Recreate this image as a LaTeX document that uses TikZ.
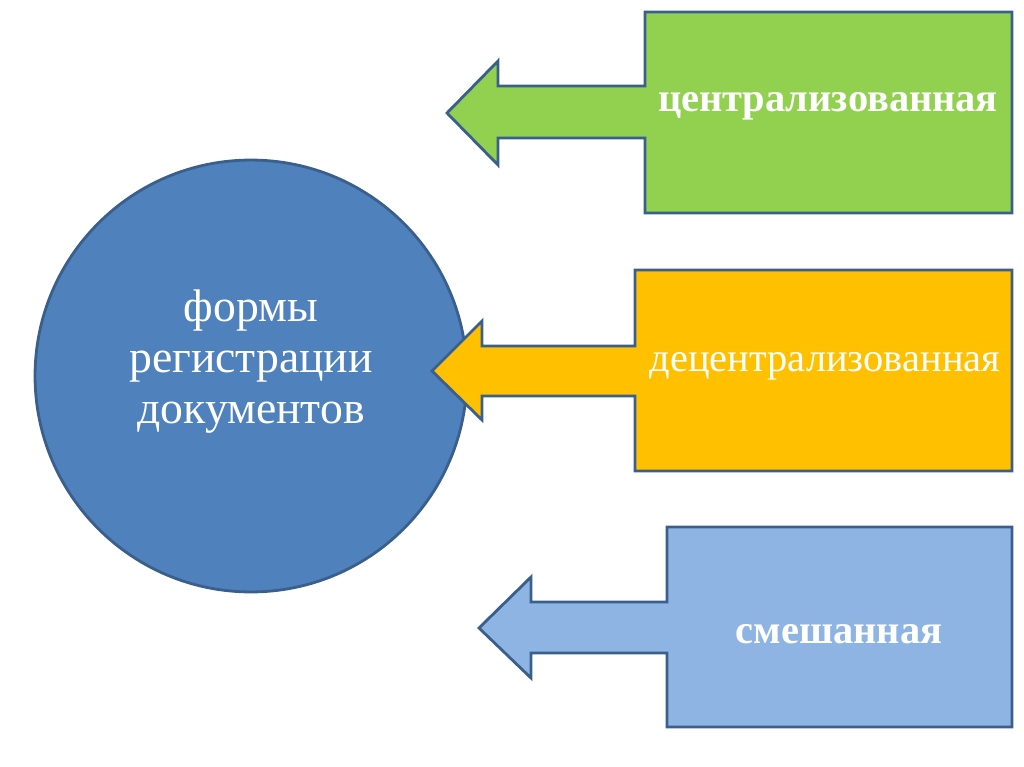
\documentclass[tikz,border=0pt]{standalone}
\usepackage{fontspec}
\setmainfont{Liberation Serif}
\usetikzlibrary{positioning}

\definecolor{edgeblue}{HTML}{3A5F8C}
\definecolor{formblue}{HTML}{4F81BD}
\definecolor{centrgreen}{HTML}{92D050}
\definecolor{decentryellow}{HTML}{FFC000}
\definecolor{mixblue}{HTML}{8EB4E3}

\begin{document}
\begin{tikzpicture}[
    x=0.02cm, y=-0.02cm,
    callout/.style={draw=edgeblue, line width=1.6pt, line join=miter},
    formcircle/.style={circle, draw=edgeblue, line width=1.6pt, fill=formblue,
                minimum size=8.64cm, inner sep=0pt},
    formtext/.style={text=white, align=center, font=\fontsize{26}{29}\selectfont},
    kindtext/.style={text=white, anchor=base, font=\fontsize{23}{28}\selectfont}
  ]
    \useasboundingbox (0,0) rectangle (1024,767);

    \node[formcircle] (forms) at (251,376) {};
    \node[formtext] (formsname) at (251,362) {формы\\регистрации\\документов};

    \filldraw[callout, fill=centrgreen] (645,12) -- (1012,12) -- (1012,213) -- (645,213)
      -- (645,138) -- (498,138) -- (498,165) -- (447,113) -- (498,61) -- (498,86) -- (645,86) -- cycle;
    \filldraw[callout, fill=decentryellow] (635,270) -- (1012,270) -- (1012,471) -- (635,471)
      -- (635,396) -- (482,396) -- (482,420) -- (432,371) -- (482,321) -- (482,346) -- (635,346) -- cycle;
    \filldraw[callout, fill=mixblue] (667,527) -- (1012,527) -- (1012,727) -- (667,727)
      -- (667,653) -- (531,653) -- (531,678) -- (479,628) -- (531,577) -- (531,602) -- (667,602) -- cycle;

    \node[kindtext, font=\fontsize{23}{28}\selectfont\bfseries] (centr) at (828,112) {централизованная};
    \node[kindtext] (decentr) at (825,371) {децентрализованная};
    \node[kindtext, font=\fontsize{23}{28}\selectfont\bfseries] (mixed) at (839,643) {смешанная};
  \end{tikzpicture}
\end{document}
